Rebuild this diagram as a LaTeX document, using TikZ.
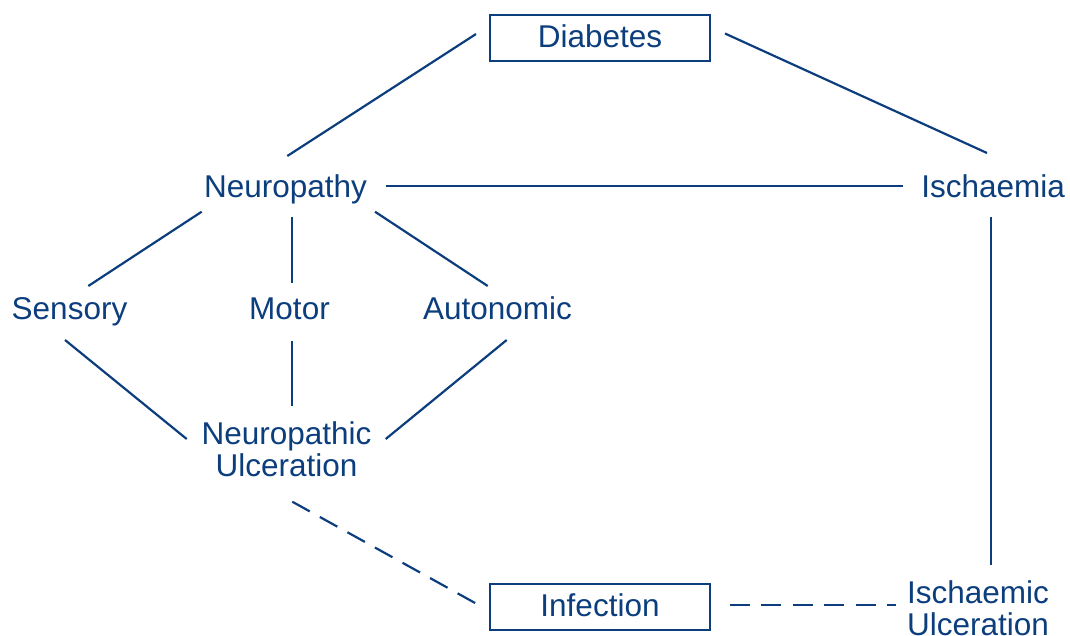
\documentclass[tikz,border=0pt]{standalone}
\usepackage{fontspec}
\setmainfont{Liberation Sans}
\usetikzlibrary{calc}
\definecolor{dblue}{RGB}{12,62,125}
\tikzset{
  lbl/.style={inner sep=0pt, outer sep=0pt, text height=22.6pt, text depth=0pt,
    font=\fontsize{31.5}{31.7}\selectfont, text=dblue},
  lbltwo/.style={lbl, align=center, text height=54.3pt, text depth=0pt},
  boxed/.style={lbl, draw=dblue, line width=2pt, minimum width=219.5pt,
    minimum height=46pt, text depth=4.4pt},
  link/.style={draw=dblue, line width=2.2pt},
  dlink/.style={link, dash pattern=on 20pt off 11.5pt}
}
\begin{document}
\begin{tikzpicture}[x=1pt,y=-1pt]
\useasboundingbox (0,0) rectangle (1070,635);
\node[boxed] (diab) at (600,38) {Diabetes};
\node[lbl] (neuro) at (285.5,186) {Neuropathy};
\node[lbl] (isch) at (993.2,186) {Ischaemia};
\node[lbl] (sens) at (69.5,308) {Sensory};
\node[lbl] (motor) at (289.5,308) {Motor};
\node[lbl] (auto) at (497.5,308) {Autonomic};
\node[lbltwo] (nu) at (286.5,449) {Neuropathic\\Ulceration};
\node[boxed] (infe) at (600,607.3) {Infection};
\node[lbltwo] (iu) at (978,608.3) {Ischaemic\\Ulceration};

\draw[link] ($(diab.west)+(-14.25,-4)$) -- ($(neuro.north)+(1.8,-18.7)$);
\draw[link] ($(diab.east)+(15.25,-4.5)$) -- ($(isch.north)+(-6.2,-21.7)$);
\draw[link] ($(neuro.east)+(19,0)$) -- ($(isch.west)+(-18,0)$);
\draw[link] ($(neuro.south)+(-83.8,14.4)$) -- ($(sens.north)+(18.8,-10.7)$);
\draw[link] ($(neuro.south)+(6.8,20)$) -- ($(motor.north)+(2.8,-13.4)$);
\draw[link] ($(neuro.south)+(89.5,14.4)$) -- ($(auto.north)+(-9.8,-10.7)$);
\draw[link] ($(sens.south)+(-4.5,20.7)$) -- ($(nu)+(-99.8,-10)$);
\draw[link] ($(motor.south)+(2.8,21.7)$) -- ($(nu)+(5.8,-43)$);
\draw[link] ($(auto.south)+(9.2,20.7)$) -- ($(nu)+(99.2,-10)$);
\draw[dlink] ($(nu)+(5.8,52.7)$) -- ($(infe.west)+(-11.55,-2.3)$);
\draw[dlink] ($(infe.east)+(20,-2.3)$) -- ($(iu)+(-82,-3.3)$);
\draw[link] ($(isch.south)+(-2.2,20)$) -- ($(iu)+(13,-43.3)$);
\end{tikzpicture}
\end{document}
